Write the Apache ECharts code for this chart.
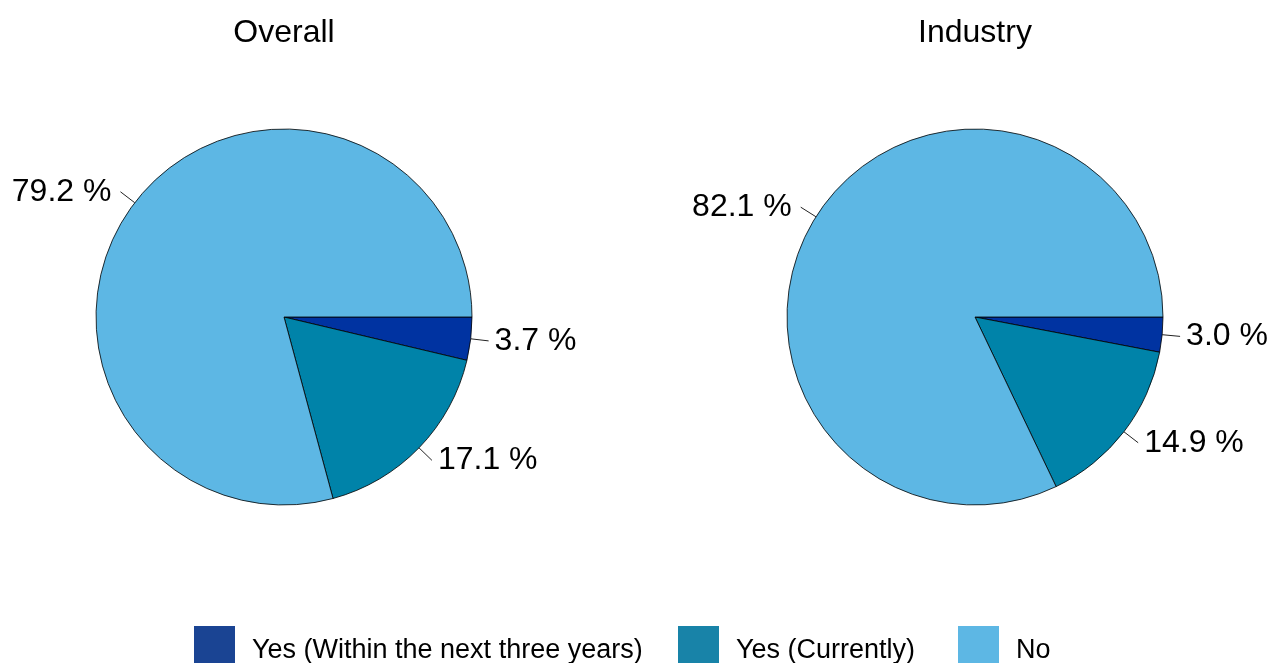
<!DOCTYPE html>
<html><head><meta charset="utf-8">
<script src="https://cdn.jsdelivr.net/npm/echarts@6/dist/echarts.min.js"></script>
<style>html,body{margin:0;padding:0;background:#fff}#c{width:1271px;height:663px}</style>
</head><body><div id="c"></div>
<script>
const categories = ['Yes (Within the next three years)', 'Yes (Currently)', 'No'];
const overallValues = [3.7, 17.1, 79.2];
const industryValues = [3.0, 14.9, 82.1];
const panelTitles = ['Overall', 'Industry'];
const sliceColors = ['#0033A1', '#0083A9', '#5DB7E4'];
const legendColors = ['#1A4493', '#1883A8', '#5DB7E4'];

const font = 'Liberation Sans, Arial, sans-serif';
const chart = echarts.init(document.getElementById('c'));

function pieSeries(name, vals, cx) {
  return {
    type: 'pie', name: name,
    center: [cx, 317], radius: [0, 188],
    startAngle: 0, clockwise: true,
    avoidLabelOverlap: false,
    legendHoverLink: false,
    data: categories.map((c, i) => ({
      name: c, value: vals[i],
      itemStyle: { color: sliceColors[i] },
      label: { distanceToLabelLine: i === 2 ? 9 : 6 }
    })),
    itemStyle: { borderColor: '#000', borderWidth: 0.8 },
    label: {
      show: true, position: 'outside',
      formatter: p => p.value.toFixed(1) + ' %',
      fontFamily: font, fontSize: 32, color: '#000'
    },
    labelLine: { show: true, length: 18, length2: 0, lineStyle: { color: '#222', width: 1 } },
    emphasis: { disabled: true }
  };
}

const legendLefts = [194, 678, 958];
chart.setOption({
  animation: false,
  color: legendColors,
  title: [
    { text: panelTitles[0], left: 284, top: 17, textAlign: 'center', padding: 0,
      textStyle: { fontFamily: font, fontSize: 32, fontWeight: 'normal', color: '#000' } },
    { text: panelTitles[1], left: 975, top: 17, textAlign: 'center', padding: 0,
      textStyle: { fontFamily: font, fontSize: 32, fontWeight: 'normal', color: '#000' } }
  ],
  legend: categories.map((c, i) => ({
    data: [{ name: c, itemStyle: { color: legendColors[i], borderWidth: 0 } }],
    left: legendLefts[i], top: 626, padding: 0,
    itemWidth: 41, itemHeight: 41, icon: 'rect',
    selectedMode: false,
    formatter: n => '{t|' + n + '}',
    textStyle: {
      fontFamily: font, fontSize: 27, color: '#000',
      rich: { t: { fontFamily: font, fontSize: 27, color: '#000', padding: [9, 0, 0, 12] } }
    }
  })),
  series: [
    pieSeries(panelTitles[0], overallValues, 284),
    pieSeries(panelTitles[1], industryValues, 975)
  ]
});
</script></body></html>
